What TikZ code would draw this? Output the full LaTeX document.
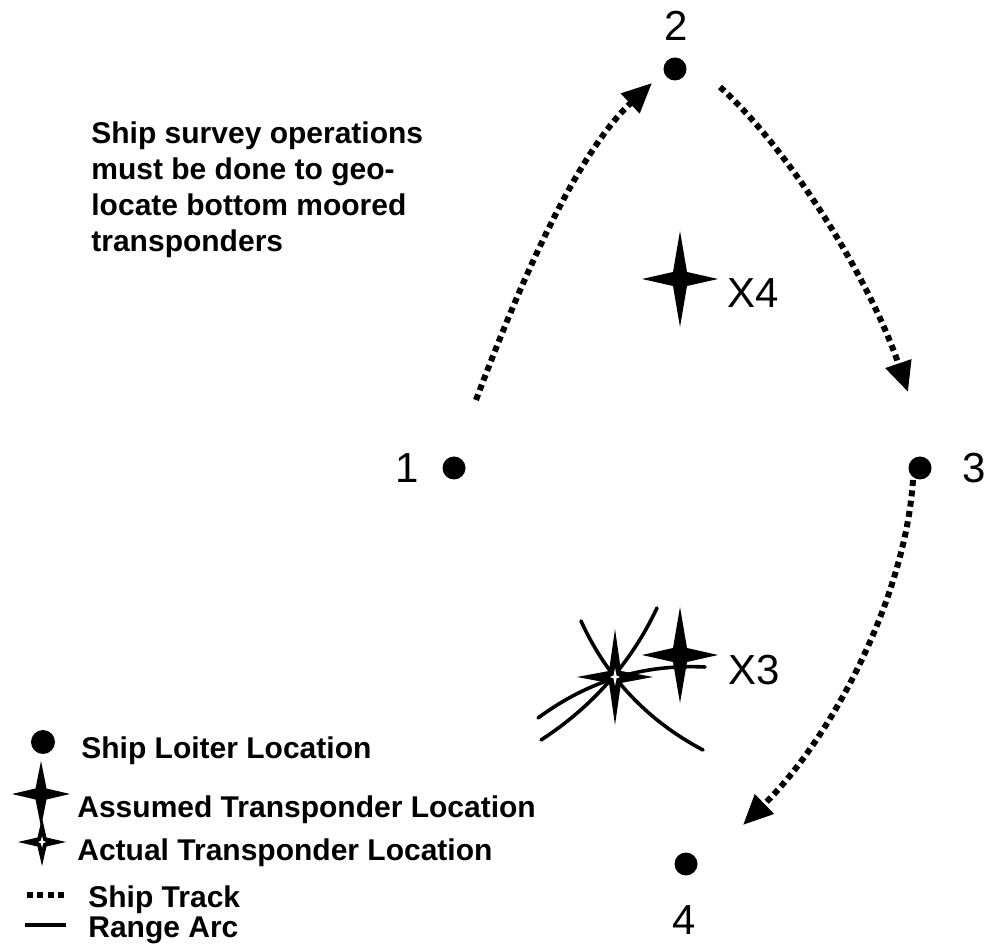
\documentclass[tikz,border=0pt]{standalone}
\usepackage{fontspec}
\setmainfont{Liberation Sans}
\usetikzlibrary{arrows.meta}

\tikzset{
  loiter/.style={circle,fill=black,inner sep=0pt,minimum size=11.5pt},
  num/.style={font=\fontsize{21}{25}\selectfont,inner sep=0pt},
  legend/.style={font=\bfseries\fontsize{15}{18}\selectfont,anchor=base west,inner sep=0pt},
  shiptrack/.style={line width=3pt,dash pattern=on 3pt off 2.2pt},
  rangearc/.style={line width=1.8pt,line cap=round},
  pics/transp/.style n args={3}{code={%
    \fill (0,#2) -- (#3,#3) -- (#1,0) -- (#3,-#3) -- (0,-#2) -- (-#3,-#3) -- (-#1,0) -- (-#3,#3) -- cycle;}}
}

\begin{document}
\begin{tikzpicture}[x=0.5pt,y=-0.5pt]
\useasboundingbox (0,0) rectangle (996,945);

% ship loiter locations
\node[loiter] (p1) at (454,468) {};
\node[loiter] (p2) at (675,69) {};
\node[loiter] (p3) at (920,468) {};
\node[loiter] (p4) at (686,864) {};
\node[num] (l1) at (407,468) {1};
\node[num] (l2) at (676,26) {2};
\node[num] (l3) at (974,468) {3};
\node[num] (l4) at (684,920) {4};

% ship track
\coordinate (t1a) at (476,400);
\coordinate (t1b) at (652,83);
\coordinate (t2a) at (720,87);
\coordinate (t2b) at (908,392);
\coordinate (t3a) at (913,480);
\coordinate (t3b) at (743,825);
\draw[shiptrack,-{Triangle[length=15pt,width=13pt]}] (t1a) .. controls (510,310) and (570,160) .. (t1b);
\draw[shiptrack,-{Triangle[length=15pt,width=13pt]}] (t2a) .. controls (790,150) and (870,280) .. (t2b);
\draw[shiptrack,-{Triangle[length=15pt,width=13pt]}] (t3a) .. controls (905,600) and (830,740) .. (t3b);

% range arcs
\draw[rangearc] (581,621) .. controls (607,678) and (648,721) .. (703,750);
\draw[rangearc] (657,608) .. controls (631,663) and (592,707) .. (541,740);
\draw[rangearc] (538,718) .. controls (588,681) and (643,664) .. (705,667);

% transponders
\pic at (680,279) {transp={38}{48}{7}};
\node[num,anchor=west] (x4) at (727,293) {X4};
\pic at (680,655) {transp={38}{48}{7}};
\node[num,anchor=west] (x3) at (728,670) {X3};
\pic at (615,677) {transp={38}{48}{6}};
\pic[white] at (615,677) {transp={5}{9}{1.5}};

% note
\node[legend,anchor=north west,align=left] (note) at (91,121)
  {Ship survey operations\\must be done to geo-\\locate bottom moored\\transponders};

% legend
\node[loiter,minimum size=12pt] (kdot) at (43,742) {};
\node[legend] (kt1) at (81,759) {Ship Loiter Location};
\pic at (41,794) {transp={29}{33}{5.5}};
\node[legend] (kt2) at (77,818) {Assumed Transponder Location};
\pic at (42,842) {transp={24}{24}{4.5}};
\pic[white] at (42,842) {transp={4}{6}{1.2}};
\node[legend] (kt3) at (77,860) {Actual Transponder Location};
\draw[shiptrack] (27,895) -- (64,895);
\node[legend] (kt4) at (88,907) {Ship Track};
\draw[line width=1.8pt] (25,925) -- (66,925);
\node[legend] (kt5) at (88,937) {Range Arc};
\end{tikzpicture}
\end{document}
